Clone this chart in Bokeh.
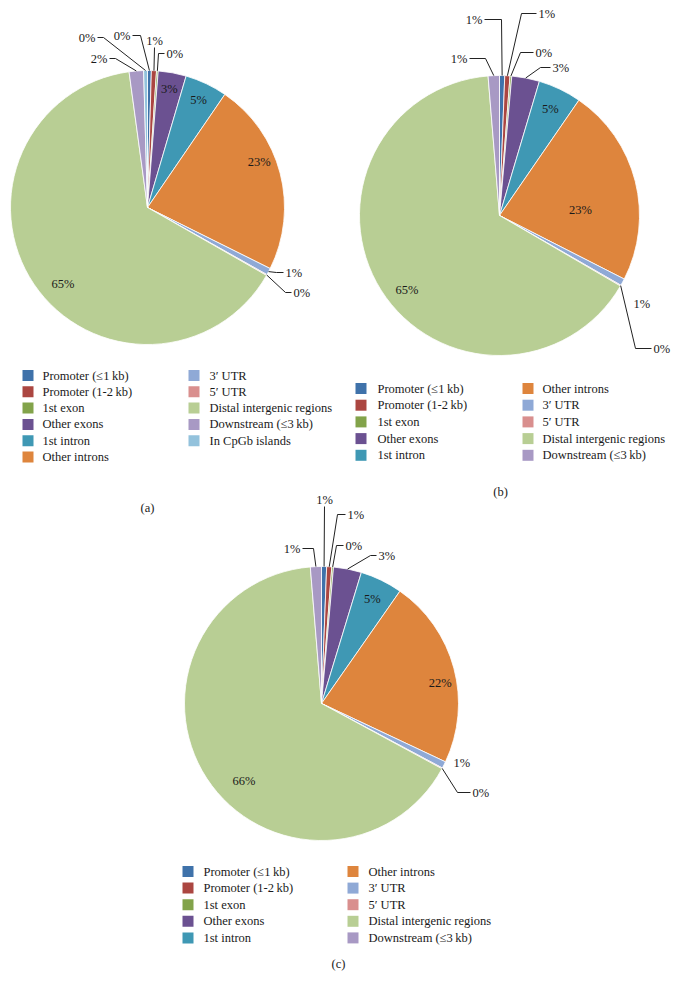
import math
from bokeh.plotting import figure
from bokeh.models import Range1d, ColumnDataSource
from bokeh.embed import file_html
from bokeh.resources import INLINE
from bokeh.core.properties import value

# ---------------- data ----------------
categories = [
    "Promoter (\u22641\u2009kb)",
    "Promoter (1-2\u2009kb)",
    "1st exon",
    "Other exons",
    "1st intron",
    "Other introns",
    "3\u2032 UTR",
    "5\u2032 UTR",
    "Distal intergenic regions",
    "Downstream (\u22643\u2009kb)",
    "In CpGb islands",
]
colors = [
    "#3F72AA", "#AB4641", "#82A34A", "#6B5191", "#3F98B4", "#DE853D",
    "#8FA9D6", "#D98F8E", "#B8CE94", "#A899C4", "#93C2DC",
]
# percentages (a: 11 categories, b and c: 10 categories)
values_a = [0.45, 0.6, 0.2, 3.3, 5.0, 22.8, 0.8, 0.1, 64.6, 1.7, 0.45]
values_b = [0.6, 0.6, 0.2, 3.2, 5.0, 22.9, 0.8, 0.1, 65.3, 1.3]
values_c = [0.6, 0.6, 0.2, 3.3, 5.0, 22.3, 0.8, 0.1, 65.8, 1.3]
panel_labels = ["(a)", "(b)", "(c)"]

# ---------------- layout ----------------
W, H = 680, 989
FONT = "Liberation Serif"
p = figure(width=W, height=H, x_range=Range1d(0, W), y_range=Range1d(0, H),
           output_backend="svg", toolbar_location=None, min_border=0,
           x_axis_location=None, y_axis_location=None)
p.grid.visible = False
p.outline_line_color = None
p.background_fill_color = "white"


def Y(img_y):
    return H - img_y


def pct(v):
    return f"{round(v)}%"


def draw_pie(vals, cx, cy, R, inside, outside):
    n = len(vals)
    total = float(sum(vals))
    starts, ends, mids = [], [], []
    cum = 0.0
    for v in vals:
        a0 = cum / total * 360.0
        cum += v
        a1 = cum / total * 360.0
        starts.append(math.radians(90 - a1))
        ends.append(math.radians(90 - a0))
        mids.append((a0 + a1) / 2.0)
    src = ColumnDataSource(dict(start=starts, end=ends, color=colors[:n]))
    p.wedge(x=cx, y=Y(cy), radius=R, start_angle="start", end_angle="end",
            direction="anticlock", fill_color="color", line_color="white",
            line_width=0.8, source=src)

    # inside labels
    for idx, ang, rf in inside:
        a = mids[idx] if ang is None else ang
        tx = cx + rf * R * math.sin(math.radians(a))
        ty = cy - rf * R * math.cos(math.radians(a))
        p.text(x=[tx], y=[Y(ty)], text=[pct(vals[idx])], text_align="center",
               text_baseline="middle", text_font=value(FONT),
               text_font_size="12.5px", text_color="#1a1a1a")

    # outside labels with leader lines
    for idx, dx, dy, align, hx in outside:
        tx, ty = cx + dx, cy + dy
        m = math.radians(mids[idx])
        ex, ey = cx + R * math.sin(m), cy - R * math.cos(m)
        p.text(x=[tx], y=[Y(ty)], text=[pct(vals[idx])], text_align=align,
               text_baseline="middle", text_font=value(FONT),
               text_font_size="12.5px", text_color="#1a1a1a")
        if hx is None:
            continue
        if hx == "v":
            xs, ys = [tx, ex], [ty + 7, ey]
        elif align == "right":
            xs, ys = [tx + 2, cx + hx, ex], [ty, ty, ey]
        else:
            xs, ys = [tx - 2, cx + hx, ex], [ty, ty, ey]
        p.line(x=xs, y=[Y(v) for v in ys], line_color="#222222", line_width=1)


def draw_legend(names, cols, x_sw, x_tx, y0, dy, split):
    for i, name in enumerate(names):
        c = 0 if i < split else 1
        r = i if i < split else i - split
        y = y0 + r * dy
        p.rect(x=[x_sw[c] + 5.5], y=[Y(y)], width=11, height=11,
               fill_color=cols[i], line_color=None)
        p.text(x=[x_tx[c]], y=[Y(y)], text=[name], text_align="left",
               text_baseline="middle", text_font=value(FONT),
               text_font_size="12.5px", text_color="#1a1a1a")


def caption(txt, x, y):
    p.text(x=[x], y=[Y(y)], text=[txt], text_align="center", text_baseline="middle",
           text_font=value(FONT), text_font_size="12.5px", text_color="#1a1a1a")


# pie (a)
draw_pie(values_a, 147, 207, 137,
         inside=[(3, None, 0.88), (4, None, 0.87), (5, 68, 0.88), (8, 228, 0.83)],
         outside=[(9, -40, -149, "right", -32), (10, -52, -170, "right", -44),
                  (0, -17, -172, "right", -7), (1, 7, -167, "center", "v"),
                  (2, 19, -154, "left", 11), (6, 138, 65, "left", 129),
                  (7, 146, 85, "left", 138)])
draw_legend(categories, colors, [22, 188], [42, 209], 375, 16.3, 6)
caption(panel_labels[0], 147, 507)

# pie (b)
draw_pie(values_b, 499, 215, 140,
         inside=[(4, None, 0.84), (5, 86, 0.58), (8, 231, 0.85)],
         outside=[(9, -32, -157, "right", -14), (0, -17, -196, "right", 2),
                  (1, 39, -202, "left", 22), (2, 36, -163, "left", 21),
                  (3, 53, -148, "left", 41), (6, 134, 88, "left", None),
                  (7, 154, 133, "left", 136)])
draw_legend(categories[:10], colors[:10], [355, 522], [377, 542], 388, 16.7, 5)
caption(panel_labels[1], 500, 491)

# pie (c)
draw_pie(values_c, 321, 703, 137,
         inside=[(4, None, 0.85), (5, 80, 0.88), (8, 225, 0.8)],
         outside=[(9, -21, -155, "right", -8), (0, 3, -204, "center", "v"),
                  (1, 26, -189, "left", 16), (2, 24, -158, "left", 15),
                  (3, 57, -148, "left", 49), (6, 132, 59, "left", None),
                  (7, 151, 89, "left", 136)])
draw_legend(categories[:10], colors[:10], [182, 347], [203, 368], 871, 16.6, 5)
caption(panel_labels[2], 338, 963)

open("out.html", "w").write(file_html(p, INLINE))
